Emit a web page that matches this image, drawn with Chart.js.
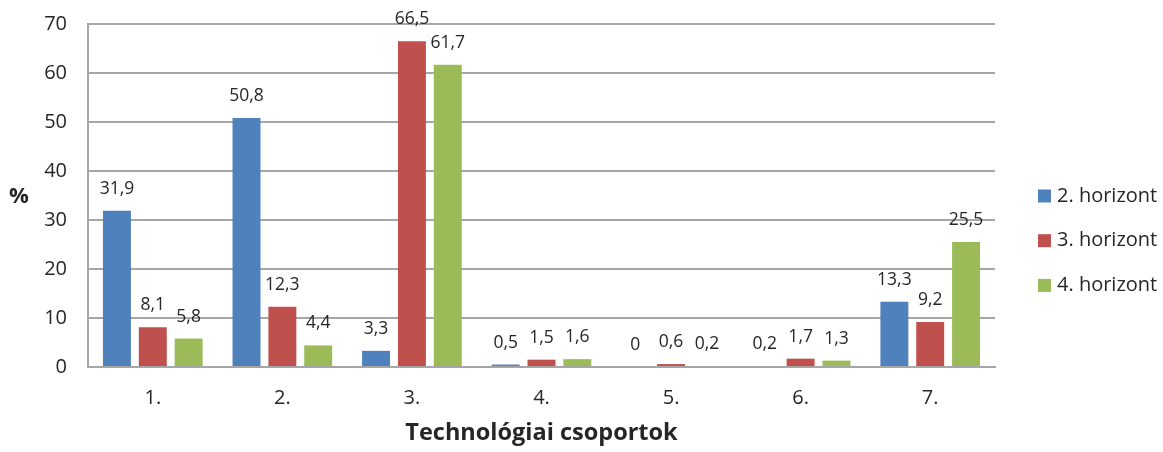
<!DOCTYPE html>
<html>
<head>
<meta charset="utf-8">
<script src="https://cdn.jsdelivr.net/npm/chart.js@4/dist/chart.umd.min.js"></script>
<style>
  html, body { margin: 0; padding: 0; background: #fff; }
  #wrap { width: 1163px; height: 452px; position: relative; }
</style>
</head>
<body>
<div id="wrap"><canvas id="chart"></canvas></div>
<script>
'use strict';

let categories = ['1.', '2.', '3.', '4.', '5.', '6.', '7.'];
let horizont2 = [31.9, 50.8, 3.3, 0.5, 0, 0.2, 13.3];
let horizont3 = [8.1, 12.3, 66.5, 1.5, 0.6, 1.7, 9.2];
let horizont4 = [5.8, 4.4, 61.7, 1.6, 0.2, 1.3, 25.5];
let seriesNames = ['2. horizont', '3. horizont', '4. horizont'];
let seriesColors = ['#4f81bd', '#c0504d', '#9bbb59'];
let yTicks = [0, 10, 20, 30, 40, 50, 60, 70];
let yTitle = '%';
let xTitle = 'Technológiai csoportok';

let fontFam = '"Open Sans", "DejaVu Sans", sans-serif';
let gridColor = '#a6a6a6';
let textColor = '#262626';

// value above each bar (decimal comma), the upright "%" title and the legend
let extras = {
  id: 'extras',
  afterDatasetsDraw(chart) {
    let ctx = chart.ctx;
    ctx.save();
    ctx.font = '17.5px ' + fontFam;
    ctx.fillStyle = textColor;
    ctx.textAlign = 'center';
    ctx.textBaseline = 'alphabetic';
    chart.data.datasets.forEach(function (ds, i) {
      let meta = chart.getDatasetMeta(i);
      meta.data.forEach(function (bar, j) {
        let txt = String(ds.data[j]).replace('.', ',');
        ctx.fillText(txt, bar.x, Math.max(bar.y - 17, 20));
      });
    });
    ctx.font = 'bold 22px ' + fontFam;
    ctx.textBaseline = 'middle';
    ctx.fillText(yTitle, 19, 197);

    // legend on the right
    let lx = chart.chartArea.right + 43;
    let ly = 196;
    ctx.font = '20px ' + fontFam;
    ctx.textAlign = 'left';
    chart.data.datasets.forEach(function (ds, i) {
      let cy = ly + i * 44.7;
      ctx.fillStyle = ds.backgroundColor;
      ctx.fillRect(lx, cy - 6.5, 13, 13);
      ctx.fillStyle = textColor;
      ctx.fillText(ds.label, lx + 19, cy);
    });
    ctx.restore();
  }
};

let ctx = document.getElementById('chart').getContext('2d');
let myChart = new Chart(ctx, {
  type: 'bar',
  data: {
    labels: categories,
    datasets: [
      { label: seriesNames[0], data: horizont2, backgroundColor: seriesColors[0] },
      { label: seriesNames[1], data: horizont3, backgroundColor: seriesColors[1] },
      { label: seriesNames[2], data: horizont4, backgroundColor: seriesColors[2] }
    ]
  },
  options: {
    responsive: true,
    maintainAspectRatio: false,
    animation: false,
    datasets: {
      bar: { categoryPercentage: 0.83, barPercentage: 0.78 }
    },
    layout: { padding: { top: 24, right: 168, left: 0, bottom: 0 } },
    plugins: {
      legend: { display: false },
      tooltip: { enabled: false }
    },
    scales: {
      x: {
        afterFit(axis) { axis.height = 85; },
        grid: { display: false },
        border: { color: gridColor, width: 2 },
        ticks: { color: textColor, font: { family: fontFam, size: 20 }, padding: 11 },
        title: {
          display: true,
          text: xTitle,
          color: textColor,
          font: { family: fontFam, size: 23.5, weight: 'bold' },
          padding: { top: 0, bottom: 5 }
        }
      },
      y: {
        min: 0,
        max: 70,
        afterFit(axis) {
          axis.width = 88;
          axis.paddingTop = 0;
          axis.paddingBottom = 0;
        },
        afterBuildTicks(axis) {
          axis.ticks = yTicks.map(function (v) { return { value: v }; });
        },
        grid: { color: gridColor, lineWidth: 2, drawTicks: false },
        border: { color: gridColor, width: 2 },
        ticks: { color: textColor, font: { family: fontFam, size: 20 }, padding: 21 }
      }
    }
  },
  plugins: [extras]
});
</script>
</body>
</html>
